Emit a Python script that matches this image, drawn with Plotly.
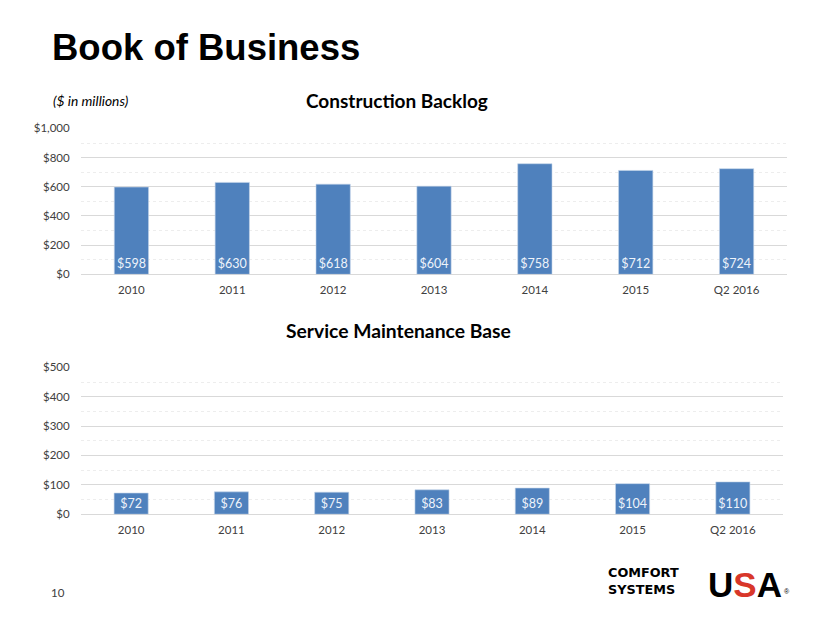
import plotly.graph_objects as go

categories = ["2010", "2011", "2012", "2013", "2014", "2015", "Q2 2016"]
backlog = [598, 630, 618, 604, 758, 712, 724]
service = [72, 76, 75, 83, 89, 104, 110]
backlog_ticks = [0, 200, 400, 600, 800, 1000]
service_ticks = [0, 100, 200, 300, 400, 500]

W, H = 830, 623
BAR = "#4F81BD"
FONT = "Lato, 'Open Sans', sans-serif"
ARIAL = "Liberation Sans, Arial, sans-serif"

def px_x(x):
    return x / W

def px_y(y):
    return 1 - y / H

fig = go.Figure()
for vals, xa, ya in [(backlog, "x", "y"), (service, "x2", "y2")]:
    fig.add_trace(go.Bar(
        x=categories, y=vals, xaxis=xa, yaxis=ya,
        marker=dict(color=BAR, line=dict(color="#C5D5EA", width=0.6)),
        width=0.34,
        text=[f"${v}" for v in vals], textposition="inside", insidetextanchor="start",
        constraintext="none", textangle=0,
        textfont=dict(family=FONT, size=12.5, color="#EEF3FA"),
        hoverinfo="skip",
    ))

def xaxis(domain, anchor):
    return dict(domain=domain, anchor=anchor, type="category", range=[-0.5, 6.5],
                showgrid=False, showline=False, zeroline=False,
                ticks="outside", ticklen=5, tickcolor="rgba(0,0,0,0)",
                tickfont=dict(family=FONT, size=11.5, color="#404040"))

def yaxis(domain, anchor, rng, tickvals, minor_dt):
    return dict(domain=domain, anchor=anchor, range=rng,
                tickvals=tickvals, ticktext=[f"${v:,}" for v in tickvals],
                showgrid=True, gridcolor="#D9D9D9", gridwidth=1,
                zeroline=True, zerolinecolor="#D9D9D9", zerolinewidth=1,
                showline=False,
                ticks="outside", ticklen=8, tickcolor="rgba(0,0,0,0)",
                tickfont=dict(family=FONT, size=11.5, color="#404040"),
                minor=dict(dtick=minor_dt, showgrid=True, gridcolor="#EDEDED",
                           griddash="dot", gridwidth=1))

fig.update_layout(
    width=W, height=H, margin=dict(l=0, r=0, t=0, b=0),
    paper_bgcolor="white", plot_bgcolor="white", showlegend=False,
    xaxis=xaxis([px_x(81), px_x(787)], "y"),
    yaxis=yaxis([px_y(273), px_y(124)], "x", [0, 1000], backlog_ticks, 100),
    xaxis2=xaxis([px_x(81), px_x(783)], "y2"),
    yaxis2=yaxis([px_y(518), px_y(368)], "x2", [0, 500], service_ticks, 50),
)

ann = [
    dict(text="<b>Book of Business</b>", x=px_x(50), y=px_y(41), xanchor="left", yanchor="middle",
         font=dict(family=ARIAL, size=36.5, color="black")),
    dict(text="<i>($ in millions)</i>", x=px_x(51), y=px_y(96), xanchor="left", yanchor="middle",
         font=dict(family=FONT, size=13.8, color="black")),
    dict(text="<b>Construction Backlog</b>", x=px_x(397), y=px_y(96), xanchor="center", yanchor="middle",
         font=dict(family=FONT, size=19, color="black")),
    dict(text="<b>Service Maintenance Base</b>", x=px_x(398), y=px_y(330), xanchor="center", yanchor="middle",
         font=dict(family=FONT, size=19.3, color="black")),
    dict(text="10", x=px_x(49), y=px_y(598), xanchor="left", yanchor="middle",
         font=dict(family=FONT, size=11.5, color="#404040")),
    dict(text="<b>COMFORT<br>SYSTEMS</b>", x=px_x(606), y=px_y(586), xanchor="left", yanchor="middle",
         align="left",
         font=dict(family="DejaVu Sans, sans-serif", size=12.8, color="black")),
    dict(text="<b>U<span style='color:#D8372A'>S</span>A</b>", x=px_x(745), y=px_y(590),
         xanchor="center", yanchor="middle",
         font=dict(family=ARIAL, size=35, color="black")),
    dict(text="®", x=px_x(787), y=px_y(597), xanchor="center", yanchor="middle",
         font=dict(family=ARIAL, size=7, color="black")),
]
for a in ann:
    a.update(xref="paper", yref="paper", showarrow=False)
fig.update_layout(annotations=ann)

fig.write_html("out.html", config={"displayModeBar": False},
               post_script="document.body.style.margin='0';document.body.style.overflow='hidden';")
